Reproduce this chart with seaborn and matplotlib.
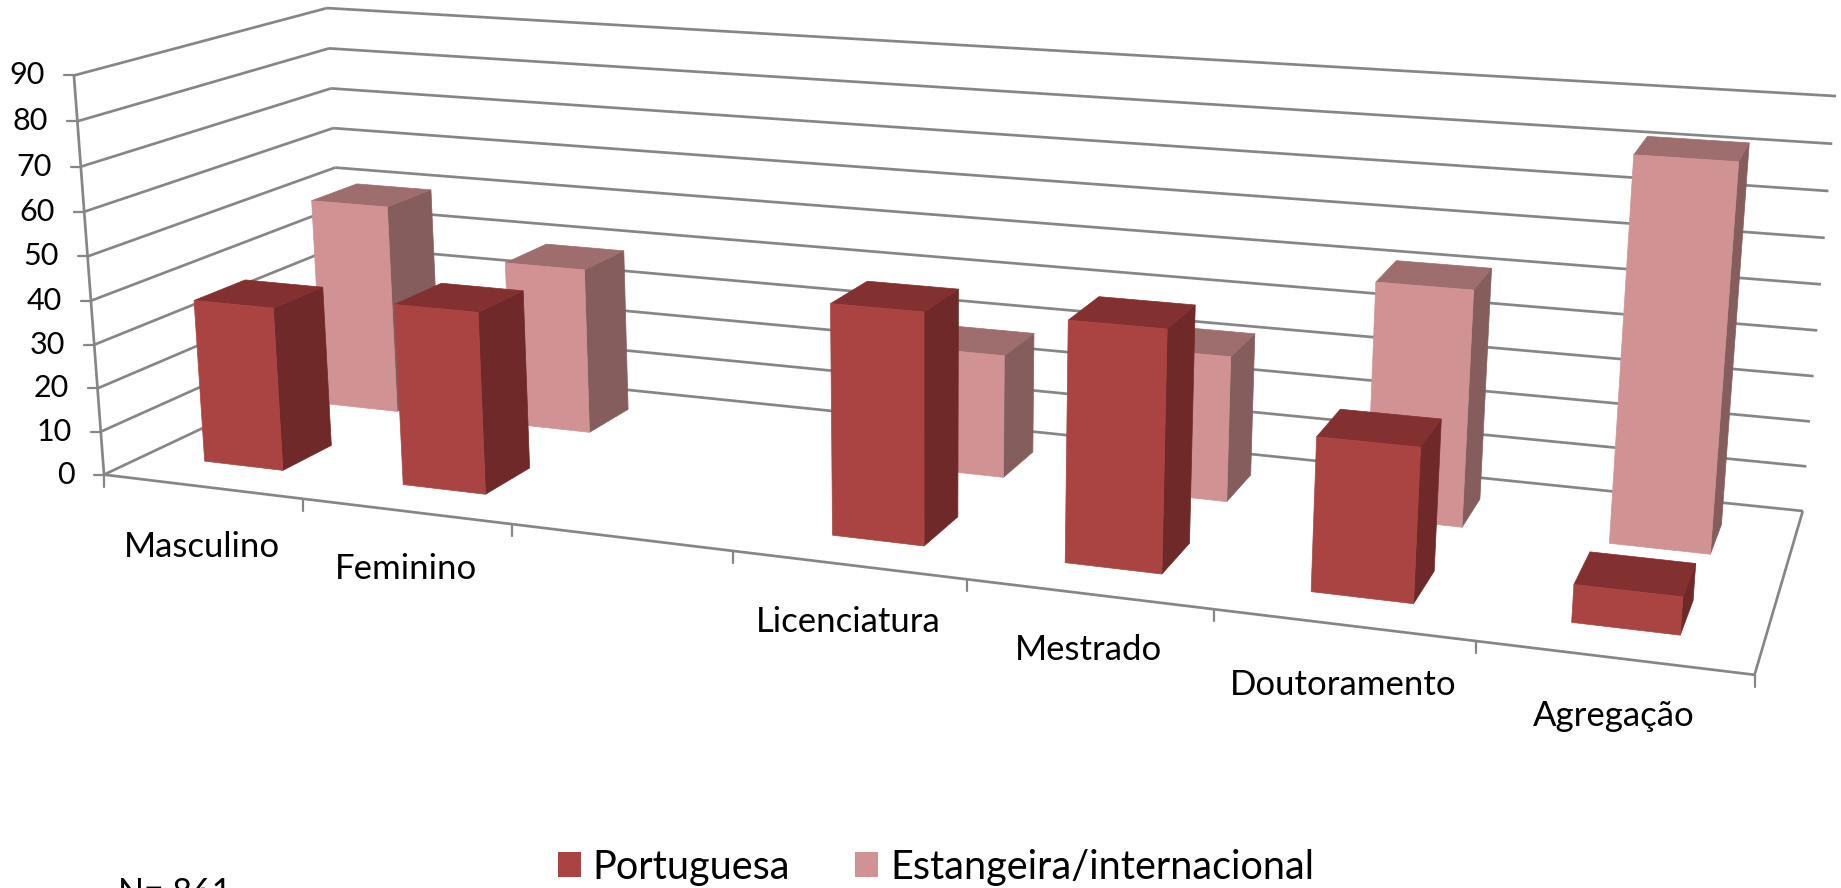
import matplotlib
matplotlib.use("Agg")
import matplotlib.pyplot as plt
import numpy as np
import pandas as pd
import seaborn as sns
from matplotlib.patches import Patch, Polygon

CATEGORIES = ["Masculino", "Feminino", "", "Licenciatura", "Mestrado", "Doutoramento", "Agregação"]
PORTUGUESA = [37.5, 41, np.nan, 50, 51, 32, 7.7]
ESTRANGEIRA = [50, 39, np.nan, 28, 32.5, 51.5, 82]
Y_TICKS = list(range(0, 100, 10))

WIDTH, HEIGHT = 1841, 888
GRID = "#868686"
FACES = {
    "Portuguesa": ("#AA4443", "#6E2928", "#823030"),
    "Estangeira/internacional": ("#D09292", "#855D5D", "#9E6D6D"),
}
SERIES_DEPTH = {"Portuguesa": (0.16, 0.36), "Estangeira/internacional": (0.65, 0.85)}
BAR_SPAN = (0.30, 0.70)

# camera calibration: (category position, depth, value) -> reference pixel
ANCHORS = [
    (0, 0, 0, 104, 473), (0, 0, 90, 74, 75),
    (0, 1, 90, 327, 8), (0, 1, 50, 335, 168),
    (7, 1, 90, 1836, 96), (7, 1, 0, 1803, 510),
    (7, 1, 50, 1821, 285), (7, 0, 0, 1755, 674),
    (1, 0, 0, 303, 500), (3, 0, 0, 734, 552), (5, 0, 0, 1213, 610),
]


def fit_camera(anchors):
    rows, rhs = [], []
    for x, d, z, u, v in anchors:
        rows.append([x, d, z, 1, 0, 0, 0, 0, -u * x, -u * d, -u * z])
        rows.append([0, 0, 0, 0, x, d, z, 1, -v * x, -v * d, -v * z])
        rhs.extend([u, v])
    p = np.linalg.lstsq(np.array(rows, float), np.array(rhs, float), rcond=None)[0]
    return np.append(p, 1.0).reshape(3, 4)


CAMERA = fit_camera(ANCHORS)


def project(x, d, z):
    u, v, w = CAMERA @ np.array([x, d, z, 1.0])
    return u / w, v / w


def draw_line(ax, start, end, lw=2.7):
    (u0, v0), (u1, v1) = project(*start), project(*end)
    ax.plot([u0, u1], [v0, v1], color=GRID, lw=lw * 0.72, solid_capstyle="butt", zorder=1)


def draw_bar(ax, position, depth, value, colours):
    if np.isnan(value):
        return
    front, side, top = colours
    x0, x1 = position + BAR_SPAN[0], position + BAR_SPAN[1]
    d0, d1 = depth
    faces = [
        (side, [(x1, d0, 0), (x1, d1, 0), (x1, d1, value), (x1, d0, value)]),
        (top, [(x0, d0, value), (x1, d0, value), (x1, d1, value), (x0, d1, value)]),
        (front, [(x0, d0, 0), (x1, d0, 0), (x1, d0, value), (x0, d0, value)]),
    ]
    for colour, corners in faces:
        ax.add_patch(Polygon([project(*c) for c in corners], closed=True, facecolor=colour,
                             edgecolor=colour, lw=0.5, zorder=2))


sns.set_theme(style="white")
plt.rcParams["font.family"] = ["Lato", "DejaVu Sans"]

data = pd.DataFrame({
    "categoria": CATEGORIES,
    "Portuguesa": PORTUGUESA,
    "Estangeira/internacional": ESTRANGEIRA,
})

fig = plt.figure(figsize=(WIDTH / 100, HEIGHT / 100), dpi=100)
ax = fig.add_axes([0, 0, 1, 1])
ax.set_xlim(0, WIDTH)
ax.set_ylim(HEIGHT, 0)
ax.axis("off")

n = len(CATEGORIES)
for tick in Y_TICKS:
    draw_line(ax, (0, 0, tick), (0, 1, tick))
    draw_line(ax, (0, 1, tick), (n, 1, tick))
    u, v = project(0, 0, tick)
    ax.plot([u - 10, u], [v, v], color=GRID, lw=1.6, zorder=1)
    ax.text(u - 29, v, str(tick), ha="right", va="center", fontsize=22, color="black")

draw_line(ax, (0, 0, 0), (0, 0, 90))
draw_line(ax, (0, 0, 0), (n, 0, 0))
draw_line(ax, (n, 0, 0), (n, 1, 0))
for i in range(n + 1):
    u, v = project(i, 0, 0)
    ax.plot([u, u], [v, v + 12], color=GRID, lw=1.6, zorder=1)

for name in ["Estangeira/internacional", "Portuguesa"]:
    for i, value in enumerate(data[name]):
        draw_bar(ax, i, SERIES_DEPTH[name], value, FACES[name])

LABEL_DROP = [60, 58, 0, 57, 56, 60, 58]
for i, label in enumerate(CATEGORIES):
    u, v = project(i + 0.5, 0, 0)
    ax.text(u, v + LABEL_DROP[i], label, ha="center", va="center", fontsize=25, color="black")

handles = [Patch(facecolor=FACES[name][0], edgecolor="none", label=name) for name in FACES]
ax.legend(handles=handles, ncol=2, loc="center", bbox_to_anchor=(936 / WIDTH, 1 - 867 / HEIGHT),
          frameon=False, fontsize=28.5, handlelength=0.58, handleheight=0.58,
          handletextpad=0.3, columnspacing=1.65, borderpad=0, labelcolor="black")
ax.text(118, 893, "N= 861", ha="left", va="center", fontsize=24.5, color="black")

fig.savefig("out.png", dpi=100)
